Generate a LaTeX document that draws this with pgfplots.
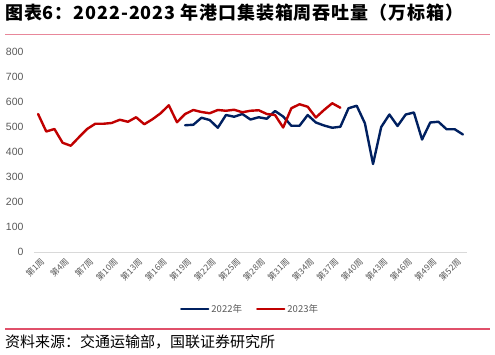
\documentclass[border=0pt]{standalone}
\usepackage{fontspec}
\setmainfont{Liberation Sans}
\newfontfamily\cjk{Noto Sans CJK SC}
\newfontfamily\cjktitle[LetterSpace=5]{Noto Sans CJK SC}
\usepackage{pgfplots}
\pgfplotsset{compat=1.18}
\definecolor{navy}{HTML}{002060}
\definecolor{dred}{HTML}{C00000}
\definecolor{tickgray}{HTML}{595959}
\definecolor{rulepink}{HTML}{E8879A}
\definecolor{rulered}{HTML}{E0506A}
\begin{document}
\begin{tikzpicture}
\path[use as bounding box] (0,0) rectangle (495pt,354pt);
\node[anchor=west, inner sep=0pt, font=\cjktitle\bfseries\fontsize{18}{20}\selectfont] at (5pt,341.5pt) {图表6：2022-2023 年港口集装箱周吞吐量（万标箱）};
\draw[rulepink, line width=1.6pt] (5pt,319.5pt) -- (490pt,319.5pt);
\draw[rulered, line width=1.2pt] (5pt,25pt) -- (490pt,25pt);
\node[anchor=west, inner sep=0pt, font=\cjk\fontsize{15}{17}\selectfont] at (5pt,12.5pt) {资料来源：交通运输部，国联证券研究所};
\begin{axis}[
  at={(34pt,102pt)}, anchor=south west,
  scale only axis, width=433pt, height=200pt,
  xmin=0.5, xmax=53.5, ymin=0, ymax=800,
  axis y line*=left, axis x line*=bottom,
  y axis line style={draw=none},
  x axis line style={draw=black!15, line width=0.8pt, -},
  ytick={0,100,...,800},
  xtick={1,4,...,52},
  xticklabels={第1周,第4周,第7周,第10周,第13周,第16周,第19周,第22周,第25周,第28周,第31周,第34周,第37周,第40周,第43周,第46周,第49周,第52周},
  major tick length=0pt,
  clip=false,
  /pgf/number format/assume math mode=true,
  yticklabel style={font=\fontsize{10.5}{12}\selectfont, text=tickgray, anchor=east, xshift=-7pt},
  xticklabel style={font=\cjk\fontsize{8.5}{10}\selectfont, text=tickgray, rotate=45, anchor=east, yshift=-9pt, xshift=1pt},
  legend style={at={(0.499,-0.285)}, anchor=center, draw=none, fill=none, legend columns=2, font=\cjk\fontsize{9.5}{11}\selectfont, text=tickgray, /tikz/every even column/.append style={column sep=12pt}},
  legend image code/.code={\draw[#1, line width=2.4pt] (0pt,0pt) -- (27pt,0pt);},
]
\addplot[navy, line width=2.4pt, line join=round, line cap=round] coordinates {
(19,507)(20,509)(21,537)(22,528)(23,497)(24,548)(25,541)(26,552)(27,530)(28,539)
(29,533)(30,564)(31,542)(32,505)(33,505)(34,548)(35,518)(36,506)(37,497)(38,501)
(39,575)(40,585)(41,515)(42,352)(43,500)(44,550)(45,504)(46,550)(47,558)(48,450)
(49,518)(50,521)(51,491)(52,491)(53,470)};
\addlegendentry{2022年}
\addplot[dred, line width=2.4pt, line join=round, line cap=round] coordinates {
(1,552)(2,482)(3,492)(4,437)(5,425)(6,459)(7,492)(8,513)(9,513)(10,516)
(11,529)(12,521)(13,539)(14,511)(15,531)(16,555)(17,587)(18,519)(19,552)(20,568)
(21,560)(22,555)(23,568)(24,565)(25,569)(26,559)(27,565)(28,567)(29,552)(30,548)
(31,498)(32,575)(33,591)(34,581)(35,538)(36,568)(37,595)(38,577)};
\addlegendentry{2023年}
\end{axis}
\end{tikzpicture}
\end{document}
